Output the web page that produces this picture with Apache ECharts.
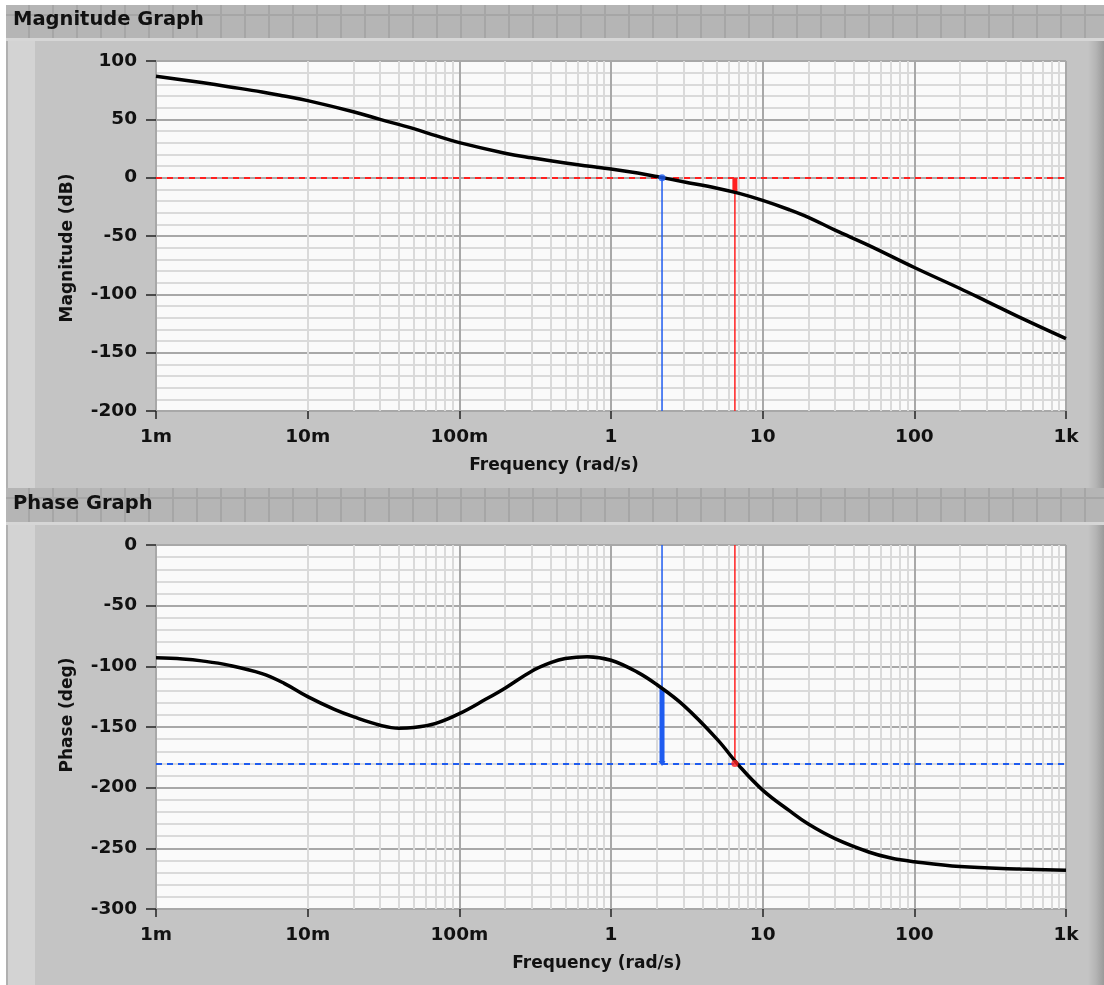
<!DOCTYPE html>
<html>
<head>
<meta charset="utf-8">
<script src="https://cdn.jsdelivr.net/npm/echarts@6/dist/echarts.min.js"></script>
<style>
  html, body { margin: 0; padding: 0; background: #fff; }
  #wrap { position: relative; width: 1104px; height: 985px; overflow: hidden; }
  .bar {
    position: absolute; left: 6px; right: 0;
    background-color: #b5b5b5;
    background-image:
      repeating-linear-gradient(90deg, transparent 0 22px, #a6a6a6 22px 24px),
      linear-gradient(180deg, transparent 0 9px, #a6a6a6 9px 11px, transparent 11px);
  }
  .panel {
    position: absolute; left: 6px; right: 0;
    background: linear-gradient(90deg, #b0b0b0 0 2px, #d3d3d3 2px 29px, #c4c4c4 29px calc(100% - 16px), #b4b4b4 calc(100% - 8px), #9a9a9a 100%);
    border-top: 3px solid #d6d6d6;
  }
  #chart { position: absolute; left: 0; top: 0; width: 1104px; height: 985px; }
</style>
</head>
<body>
<div id="wrap">
  <div class="bar" style="top:5px;height:33px"></div>
  <div class="panel" style="top:38px;height:447px"></div>
  <div class="bar" style="top:488px;height:34px"></div>
  <div class="panel" style="top:522px;height:460px"></div>
  <div id="chart"></div>
</div>
<script>
// magnitude curve
const magFreq = [0.001, 0.002, 0.003, 0.005, 0.007, 0.01, 0.02, 0.03, 0.05, 0.07, 0.1, 0.2, 0.3, 0.5, 0.7,
	1, 1.5, 2, 3, 5, 7, 10, 15, 20, 30, 50, 100, 200, 300, 500, 1000];
const magDb = [87, 81.5, 78, 73.5, 70, 66, 56.5, 50, 42, 36, 30, 21, 17, 12.5, 10,
	7.5, 4, 1, -3.5, -9, -13.5, -19.5, -27.5, -34, -45, -58, -77, -95, -106, -120, -138];

// phase curve
const phFreq = [0.001, 0.0015, 0.002, 0.003, 0.005, 0.007, 0.01, 0.015, 0.02, 0.03, 0.04, 0.05, 0.07,
	0.1, 0.15, 0.2, 0.3, 0.4, 0.5, 0.7, 1, 1.5, 2, 3, 5, 7, 10, 15, 20, 30, 50, 70, 100, 200, 500, 1000];
const phDeg = [-93, -94, -95.5, -99, -106, -114, -125, -135.5, -141.5, -148.5, -151, -150.5, -147,
	-139, -127, -118, -104, -97, -93.5, -92, -95, -105, -115, -132, -160, -182, -202, -219, -230, -242, -253, -258, -261, -265, -267, -268];

// margins
const gainCrossFreq = 2.17, phaseAtGainCross = -118;
const phaseCrossFreq = 6.56, gainAtPhaseCross = -12;

const freqLabels = ['1m', '10m', '100m', '1', '10', '100', '1k'];
const minorFreqs = [];
[0.001, 0.01, 0.1, 1, 10, 100].forEach(d => {
	for (let k = 2; k <= 9; k++) minorFreqs.push(+(d * k).toPrecision(3));
});

const FONT = 'DejaVu Sans';
const TXT = { color: '#111', fontFamily: FONT, fontWeight: 'bold', fontSize: 17 };
const TICK_TXT = Object.assign({}, TXT, { fontSize: 18.5 });
const zip = (xs, ys) => xs.map((x, i) => [x, ys[i]]);

function xAxis(gridIndex, namePad) {
	return {
		type: 'log', logBase: 10, min: 0.001, max: 1000, gridIndex,
		name: 'Frequency (rad/s)', nameLocation: 'middle', nameGap: 46,
		nameTextStyle: Object.assign({ padding: namePad }, TXT),
		axisLine: { show: false, onZero: false },
		axisTick: { show: true, length: 8, lineStyle: { color: '#222', width: 1.5 } },
		axisLabel: Object.assign({ margin: 17,
			formatter: v => freqLabels[Math.round(Math.log10(v)) + 3] }, TICK_TXT),
		splitLine: { show: true, lineStyle: { color: '#a8a8a8', width: 2 } }
	};
}

function yAxis(gridIndex, name, min, max, namePad) {
	return {
		type: 'value', gridIndex, min, max, interval: 50,
		name, nameLocation: 'middle', nameGap: 80, nameRotate: 90,
		nameTextStyle: Object.assign({ padding: namePad }, TXT),
		axisLine: { show: false, onZero: false },
		axisTick: { show: true, length: 10, lineStyle: { color: '#222', width: 1.5 } },
		axisLabel: Object.assign({ margin: 19 }, TICK_TXT),
		splitLine: { show: true, lineStyle: { color: '#a8a8a8', width: 2 } },
		minorTick: { show: false, splitNumber: 5 },
		minorSplitLine: { show: true, lineStyle: { color: '#dadada', width: 2 } }
	};
}

function minorGrid(i) {
	return {
		type: 'line', xAxisIndex: i, yAxisIndex: i, data: [], silent: true, z: 1,
		markLine: {
			silent: true, symbol: 'none', animation: false, label: { show: false },
			lineStyle: { color: '#dadada', width: 2, type: 'solid' },
			data: minorFreqs.map(f => ({ xAxis: f }))
		}
	};
}

function seg(i, pts, color, width) {
	return {
		type: 'line', xAxisIndex: i, yAxisIndex: i, data: pts, z: 4,
		showSymbol: false, symbol: 'none', silent: true, animation: false,
		lineStyle: { color, width, cap: 'butt' }
	};
}

function refLine(i, y, color) {
	return {
		type: 'line', xAxisIndex: i, yAxisIndex: i, data: [], z: 3, silent: true,
		markLine: {
			silent: true, symbol: 'none', animation: false, label: { show: false },
			lineStyle: { color, width: 2, type: [6, 5] },
			data: [{ yAxis: y }]
		}
	};
}

function curve(i, xs, ys) {
	return {
		type: 'line', xAxisIndex: i, yAxisIndex: i, data: zip(xs, ys),
		smooth: 0.4, showSymbol: false, z: 5, silent: true,
		lineStyle: { color: '#000', width: 3.5 }
	};
}

const RED = '#ff2020', BLUE = '#1f5cf0';

let chart = echarts.init(document.getElementById('chart'), null, { renderer: 'canvas' });
chart.setOption({
	animation: false,
	backgroundColor: 'transparent',
	title: [
		{ text: 'Magnitude Graph', left: 13, top: 10, padding: 0,
			textStyle: Object.assign({}, TXT, { fontSize: 19.5 }) },
		{ text: 'Phase Graph', left: 13, top: 494, padding: 0,
			textStyle: Object.assign({}, TXT, { fontSize: 19.5 }) }
	],
	grid: [
		{ left: 156, right: 38, top: 61, height: 350, show: true,
			backgroundColor: '#fafafa', borderColor: '#a0a0a0', borderWidth: 1 },
		{ left: 156, right: 38, top: 545, height: 364, show: true,
			backgroundColor: '#fafafa', borderColor: '#a0a0a0', borderWidth: 1 }
	],
	xAxis: [xAxis(0, [0, 114, 0, 0]), xAxis(1, [0, 28, 0, 0])],
	yAxis: [
		yAxis(0, 'Magnitude (dB)', -200, 100, [0, 24, 0, 0]),
		yAxis(1, 'Phase (deg)', -300, 0, [0, 0, 0, 24])
	],
	series: [
		minorGrid(0),
		minorGrid(1),
		refLine(0, 0, RED),
		refLine(1, -180, BLUE),

		// magnitude: gain crossover and gain margin markers
		seg(0, [[gainCrossFreq, -200], [gainCrossFreq, 0]], BLUE, 1.5),
		seg(0, [[phaseCrossFreq, -200], [phaseCrossFreq, gainAtPhaseCross]], RED, 1.5),
		seg(0, [[phaseCrossFreq, gainAtPhaseCross], [phaseCrossFreq, 0]], RED, 5),

		// phase: phase margin markers
		seg(1, [[gainCrossFreq, 0], [gainCrossFreq, phaseAtGainCross]], BLUE, 1.5),
		Object.assign(seg(1, [[gainCrossFreq, phaseAtGainCross],
			{ value: [gainCrossFreq, -180], symbol: 'triangle', symbolSize: [7, 5], symbolRotate: 180 }], BLUE, 5),
			{ showSymbol: true, symbol: 'none', itemStyle: { color: BLUE } }),
		seg(1, [[phaseCrossFreq, 0], [phaseCrossFreq, -180]], RED, 1.5),

		curve(0, magFreq, magDb),
		curve(1, phFreq, phDeg),
		{
			type: 'scatter', xAxisIndex: 0, yAxisIndex: 0, z: 6, silent: true,
			data: [[gainCrossFreq, 0]], symbolSize: 7, itemStyle: { color: BLUE }
		},
		{
			type: 'scatter', xAxisIndex: 1, yAxisIndex: 1, z: 6, silent: true,
			data: [[phaseCrossFreq, -180]], symbolSize: 7, itemStyle: { color: RED }
		}
	]
});
</script>
</body>
</html>
